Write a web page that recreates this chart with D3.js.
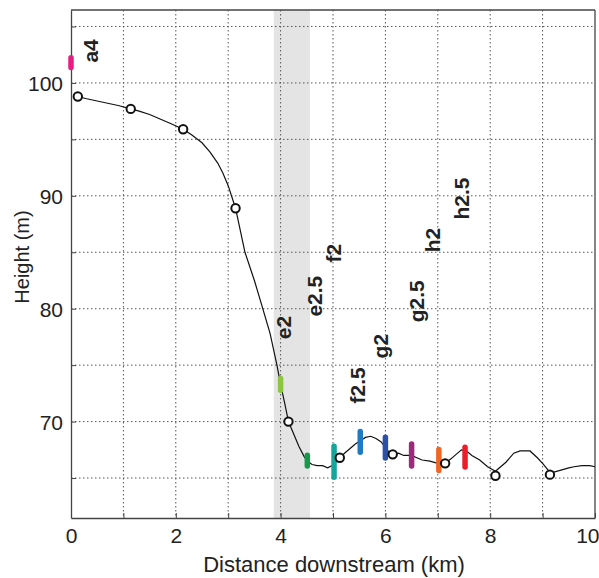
<!DOCTYPE html>
<html>
<head>
<meta charset="utf-8">
<script src="https://cdn.jsdelivr.net/npm/d3@7"></script>
<style>
  body { margin: 0; background: #fff; }
  svg text { font-family: "Liberation Sans", Arial, Helvetica, sans-serif; fill: #222; }
</style>
</head>
<body>
<div id="chart"></div>
<script>
// river long profile (km, m)
const profileKm = [0.13, 0.3, 0.5, 0.7, 0.9, 1.14, 1.3, 1.5, 1.7, 1.9, 2.14, 2.3, 2.5, 2.65, 2.8, 2.9, 3.0, 3.14, 3.32, 3.5, 3.66, 3.8, 3.93, 4.0, 4.08, 4.15, 4.25, 4.35, 4.45, 4.51, 4.6, 4.7, 4.8, 4.9, 5.02, 5.13, 5.22, 5.32, 5.42, 5.52, 5.62, 5.72, 5.82, 5.92, 6.0, 6.07, 6.14, 6.25, 6.35, 6.5, 6.6, 6.7, 6.85, 7.0, 7.14, 7.25, 7.35, 7.45, 7.55, 7.65, 7.8, 7.95, 8.1, 8.3, 8.45, 8.57, 8.76, 8.9, 9.0, 9.14, 9.2, 9.35, 9.5, 9.6, 9.75, 9.9, 10.0]
const profileH  = [98.8, 98.6, 98.4, 98.2, 98.0, 97.7, 97.5, 97.2, 96.8, 96.4, 95.9, 95.4, 94.7, 93.9, 92.9, 92.0, 90.9, 88.9, 85.0, 82.5, 80.0, 77.8, 75.0, 73.3, 71.6, 70.0, 68.9, 67.8, 66.9, 66.5, 66.2, 66.1, 66.1, 65.9, 66.2, 66.8, 67.2, 67.6, 68.0, 68.3, 68.6, 68.7, 68.5, 68.2, 67.7, 67.3, 67.1, 67.2, 67.0, 67.0, 66.8, 66.6, 66.5, 66.3, 66.3, 66.7, 67.1, 67.5, 67.4, 67.0, 66.6, 66.0, 65.6, 66.4, 67.2, 67.4, 67.4, 66.8, 66.3, 65.5, 65.5, 65.7, 65.9, 66.0, 66.1, 66.1, 66.0]

// survey points
const markKm = [0.13, 1.14, 2.14, 3.14, 4.15, 5.13, 6.14, 7.14, 8.1, 9.14]
const markH  = [98.8, 97.7, 95.9, 88.9, 70.0, 66.8, 67.1, 66.3, 65.2, 65.3]

// sampling sites
const siteKm    = [0.0, 4.0, 4.51, 5.02, 5.52, 6.0, 6.5, 7.02, 7.52]
const siteLow   = [101.2, 72.6, 65.9, 64.9, 67.1, 66.6, 65.9, 65.5, 65.8]
const siteHigh  = [102.4, 74.0, 67.2, 68.0, 69.3, 68.8, 68.2, 67.7, 67.9]
const siteColor = ['#ec1a83', '#8cc63f', '#17994a', '#15a69b', '#1f7ac6', '#2e4fa6', '#9e2a7b', '#f26424', '#ec1c2a']

// site labels: centre km, height where text starts
const labelText = ['a4', 'e2', 'e2.5', 'f2', 'f2.5', 'g2', 'g2.5', 'h2', 'h2.5']
const labelKm   = [0.38, 4.06, 4.65, 5.01, 5.47, 5.91, 6.59, 6.9, 7.46]
const labelH    = [101.8, 77.3, 79.3, 84.1, 71.6, 75.6, 78.8, 85.0, 87.9]

const bandKm = [3.87, 4.56]

const xTicks = [0, 2, 4, 6, 8, 10]
const yTicks = [70, 80, 90, 100]

const width = 599, height = 578
const margin = {left: 71, top: 10, right: 4, bottom: 60}

const svg = d3.select('#chart').append('svg')
  .attr('width', width)
  .attr('height', height)

const x = d3.scaleLinear().domain([0, 10]).range([margin.left, width - margin.right])
const y = d3.scaleLinear().domain([61.46, 106.46]).range([height - margin.bottom, margin.top])

// grey band
svg.append('rect')
  .attr('x', x(bandKm[0]))
  .attr('y', margin.top)
  .attr('width', x(bandKm[1]) - x(bandKm[0]))
  .attr('height', y.range()[0] - margin.top)
  .attr('fill', '#e4e4e4')

// dotted grid
const grid = svg.append('g')
grid.selectAll('.gx').data(d3.range(1, 10))
  .join('line')
  .attr('x1', d => x(d)).attr('x2', d => x(d))
  .attr('y1', margin.top).attr('y2', y.range()[0])
grid.selectAll('.gy').data(d3.range(65, 106, 5))
  .join('line')
  .attr('x1', margin.left).attr('x2', width - margin.right)
  .attr('y1', d => y(d)).attr('y2', d => y(d))
grid.selectAll('line')
  .attr('stroke', '#555')
  .attr('stroke-width', 1)
  .attr('stroke-dasharray', '1.5,2.5')

// axes
const xAxis = svg.append('g')
  .attr('transform', `translate(0,${y.range()[0]})`)
  .call(d3.axisBottom(x).tickValues(d3.range(0, 11)).tickSizeInner(-5).tickSizeOuter(0)
    .tickFormat(d => xTicks.includes(d) ? d : ''))
const yAxis = svg.append('g')
  .attr('transform', `translate(${margin.left},0)`)
  .call(d3.axisLeft(y).tickValues(d3.range(65, 106, 5)).tickSizeInner(-5).tickSizeOuter(0)
    .tickFormat(d => yTicks.includes(d) ? d : ''))

;[xAxis, yAxis].forEach(a => {
  a.select('.domain').attr('stroke', '#444').attr('stroke-width', 1.3)
  a.selectAll('.tick line').attr('stroke', '#444')
  a.selectAll('.tick text').attr('font-size', 21).attr('fill', '#222')
})
xAxis.selectAll('.tick text').attr('dy', '1.05em')
// last label sits against the edge
xAxis.selectAll('.tick text').filter(d => d === 10).attr('text-anchor', 'end').attr('x', 4)
yAxis.selectAll('.tick text').attr('x', -8).attr('dy', '0.36em')

// box top and right
svg.append('line')
  .attr('x1', margin.left).attr('x2', width - margin.right)
  .attr('y1', margin.top).attr('y2', margin.top)
  .attr('stroke', '#444').attr('stroke-width', 1.3)
svg.append('line')
  .attr('x1', width - margin.right).attr('x2', width - margin.right)
  .attr('y1', margin.top).attr('y2', y.range()[0])
  .attr('stroke', '#444').attr('stroke-width', 1.3)

// profile
const line = d3.line()
  .x((d, i) => x(profileKm[i]))
  .y(d => y(d))

svg.append('path')
  .datum(profileH)
  .attr('d', line)
  .attr('fill', 'none')
  .attr('stroke', '#111')
  .attr('stroke-width', 1.2)

// sites
svg.append('g').selectAll('line')
  .data(siteKm)
  .join('line')
  .attr('x1', d => x(d)).attr('x2', d => x(d))
  .attr('y1', (d, i) => y(siteLow[i]) - 2)
  .attr('y2', (d, i) => y(siteHigh[i]) + 2)
  .attr('stroke', (d, i) => siteColor[i])
  .attr('stroke-width', 5.5)
  .attr('stroke-linecap', 'round')

// circles
svg.append('g').selectAll('circle')
  .data(markKm)
  .join('circle')
  .attr('cx', d => x(d))
  .attr('cy', (d, i) => y(markH[i]))
  .attr('r', 4.2)
  .attr('fill', '#fff')
  .attr('stroke', '#111')
  .attr('stroke-width', 2)

// labels
svg.append('g').selectAll('text')
  .data(labelText)
  .join('text')
  .attr('transform', (d, i) => `translate(${x(labelKm[i])},${y(labelH[i])}) rotate(-90)`)
  .attr('dy', '0.36em')
  .attr('font-size', 21)
  .attr('font-weight', 'bold')
  .attr('fill', '#222')
  .text(d => d)

// axis titles
svg.append('text')
  .attr('x', 334)
  .attr('y', 572)
  .attr('text-anchor', 'middle')
  .attr('font-size', 22)
  .text('Distance downstream (km)')

svg.append('text')
  .attr('transform', 'translate(29,257) rotate(-90)')
  .attr('text-anchor', 'middle')
  .attr('font-size', 20)
  .text('Height (m)')
</script>
</body>
</html>
